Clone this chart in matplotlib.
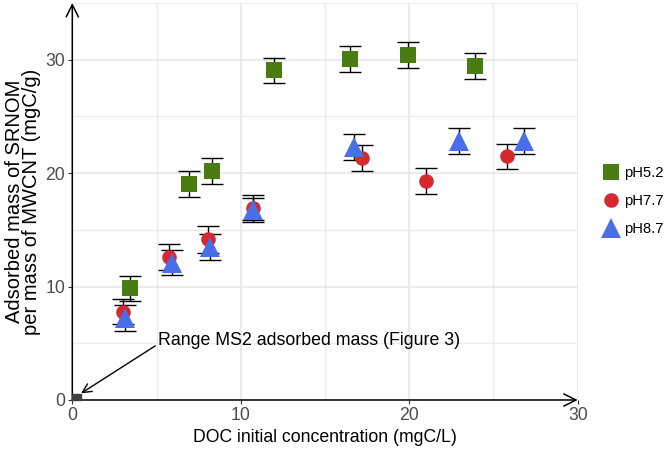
import numpy as np
import matplotlib
matplotlib.use("Agg")
import matplotlib.pyplot as plt
from matplotlib.patches import Rectangle

plt.rcParams['font.family'] = ['Liberation Sans', 'DejaVu Sans']

# pH 5.2
x52 = [3.43, 6.91, 8.30, 11.98, 16.49, 19.90, 23.90]
y52 = [9.85, 19.05, 20.15, 29.05, 30.05, 30.45, 29.45]
e52 = [1.1, 1.15, 1.15, 1.1, 1.12, 1.15, 1.15]
# pH 7.7
x77 = [3.03, 5.74, 8.08, 10.75, 17.22, 21.00, 25.80]
y77 = [7.79, 12.60, 14.15, 16.95, 21.30, 19.30, 21.50]
e77 = [1.12, 1.12, 1.15, 1.12, 1.14, 1.12, 1.1]
# pH 8.7
x87 = [3.13, 5.90, 8.20, 10.70, 16.73, 22.98, 26.82]
y87 = [7.20, 12.10, 13.45, 16.75, 22.30, 22.85, 22.85]
e87 = [1.15, 1.12, 1.15, 1.05, 1.13, 1.15, 1.15]

series = [
    ("pH5.2", x52, y52, e52, "s", "#4a7c12", 11),
    ("pH7.7", x77, y77, e77, "o", "#d7282f", 10.5),
    ("pH8.7", x87, y87, e87, "^", "#4a6ee6", 14),
]

fig = plt.figure(figsize=(6.72, 4.5), dpi=100)
ax = fig.add_axes([72.3 / 672, 1 - 400 / 450, (577.7 - 72.3) / 672, 397 / 450])

ax.set_xlim(0, 30)
ax.set_ylim(0, 35)
ax.set_xticks([0, 10, 20, 30])
ax.set_yticks([0, 10, 20, 30])
ax.set_xticks([5, 15, 25], minor=True)
ax.set_yticks([5, 15, 25, 35], minor=True)
ax.grid(which='major', color='#e6e6e6', lw=1.1)
ax.grid(which='minor', color='#ebebeb', lw=1.0)
ax.set_axisbelow(True)
for s in ax.spines.values():
    s.set_visible(False)
ax.tick_params(which='major', length=3, width=0.8, color='#333333',
               labelsize=12.7, labelcolor='#4d4d4d', pad=2)
ax.tick_params(which='minor', length=0)

# axis lines with open arrow heads
ax.annotate("", xy=(1.0, 0), xytext=(0, 0), xycoords='axes fraction',
            arrowprops=dict(arrowstyle='->', lw=1.1, color='black',
                            mutation_scale=22, shrinkA=0, shrinkB=0))
ax.annotate("", xy=(0, 1.0), xytext=(0, 0), xycoords='axes fraction',
            arrowprops=dict(arrowstyle='->', lw=1.1, color='black',
                            mutation_scale=22, shrinkA=0, shrinkB=0))

for name, xs, ys, es, m, c, ms in series:
    ax.errorbar(xs, ys, yerr=es, fmt='none', ecolor='black', elinewidth=1.0,
                capsize=7.8, capthick=1.0, zorder=3)
for name, xs, ys, es, m, c, ms in series:
    ax.plot(xs, ys, ls='none', marker=m, color=c, markersize=ms,
            markeredgewidth=0, label=name, zorder=4)

ax.add_patch(Rectangle((0, 0), 0.5, 0.5, color='#404040', zorder=5, clip_on=False))
ax.annotate("Range MS2 adsorbed mass (Figure 3)", xy=(0.52, 0.59), xytext=(5.09, 5.23),
            fontsize=12.8, va='center', ha='left',
            arrowprops=dict(arrowstyle='->', lw=1.0, color='black',
                            mutation_scale=16, shrinkA=0, shrinkB=0,
                            relpos=(0, 0.3)))

ax.set_xlabel("DOC initial concentration (mgC/L)", fontsize=12.7, labelpad=4)
ax.set_ylabel("Adsorbed mass of SRNOM\nper mass of MWCNT (mgC/g)", fontsize=14.5,
              labelpad=3, linespacing=0.88)

ax.legend(loc='center left', bbox_to_anchor=(604 / 672, 1 - 201 / 450),
          bbox_transform=fig.transFigure, frameon=False, fontsize=10.6,
          handlelength=1.0, handletextpad=0.35, labelspacing=0.95,
          borderpad=0, borderaxespad=0)

fig.savefig("out.png", dpi=100)
